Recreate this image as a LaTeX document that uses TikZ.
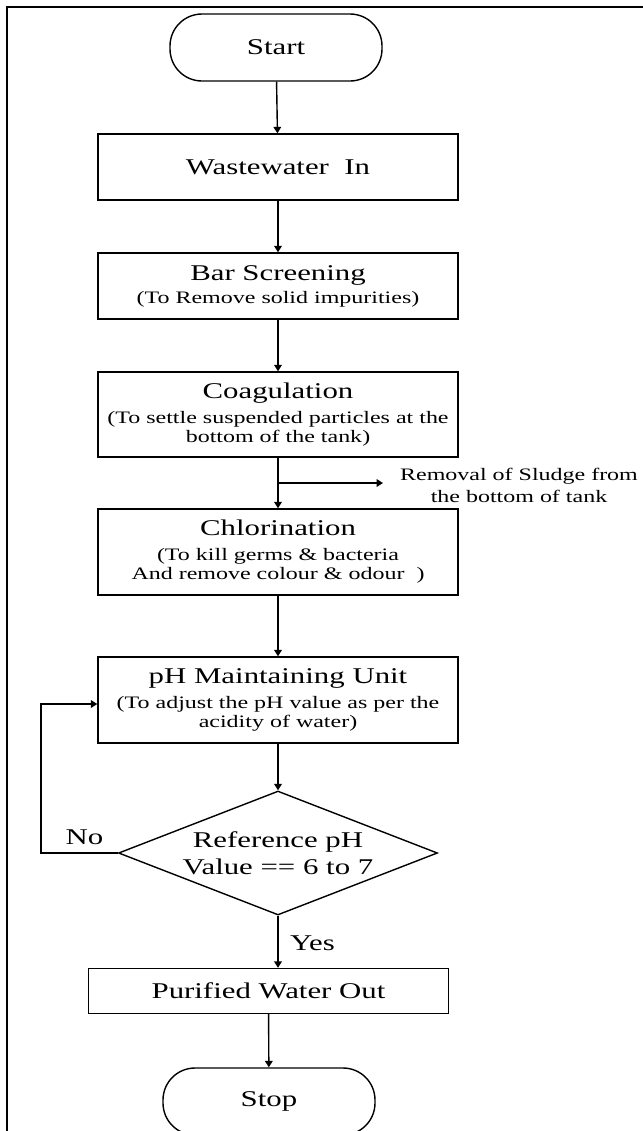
\documentclass[tikz,border=0pt]{standalone}
\usepackage{fontspec}
\setmainfont{Liberation Serif}[FakeStretch=1.37]
\usetikzlibrary{shapes.geometric,arrows.meta,calc}

\newcommand{\headfont}{\fontsize{11.25}{12.5}\selectfont}
\newcommand{\notefont}{\fontsize{8.75}{9.5}\selectfont\lineskiplimit=-10pt}

\begin{document}
\begin{tikzpicture}[x=0.5pt,y=-0.5pt]
    \tikzstyle{every node}=[font=\headfont]
    \tikzstyle{process}=[draw,line width=0.7pt,minimum width=180pt,align=center,inner sep=0pt]
    \tikzstyle{terminal}=[draw,line width=0.7pt,rounded corners=16pt,minimum width=106pt,minimum height=33.5pt]
    \tikzstyle{decision}=[draw,line width=0.7pt,diamond,aspect=2.57,minimum width=159.5pt,minimum height=62pt,inner sep=0pt,align=center]
    \tikzstyle{arr}=[-{Triangle[length=3.2pt,width=3.8pt]},line width=0.7pt]

    \useasboundingbox (0,0) rectangle (643,1131);
    \draw[line width=1pt] (7,1131) -- (7,7) -- (643,7);

    % main flow
    \node[terminal] (start) at (276,47.5) {Start};
    \node[process,minimum height=33pt] (win) at (278,167) {Wastewater~ In};
    \node[process,minimum height=33pt,font=\notefont] (bar) at (278,286)
        {{\headfont Bar Screening}\\[2pt](To Remove solid impurities)};
    \node[process,minimum height=42.5pt,font=\notefont] (coag) at (278,414.5)
        {{\headfont Coagulation}\\[3pt](To settle suspended particles at the\\bottom of the tank)};
    \node[process,minimum height=43pt,font=\notefont] (chl) at (278,552)
        {{\headfont Chlorination}\\[3pt](To kill germs \& bacteria\\And remove colour \& odour~ )};
    \node[process,minimum height=43pt,font=\notefont] (phu) at (278,700)
        {{\headfont pH Maintaining Unit}\\[3pt](To adjust the pH value as per the\\acidity of water)};
    \node[decision] (dec) at (278,853) {Reference pH\\[1pt]Value == 6 to 7};
    \node[process,minimum height=22.5pt] (pwo) at (268.5,991) {Purified Water Out};
    \node[terminal] (stop) at (269,1101.5) {Stop};

    \node[font=\notefont,align=center] (sludge) at (519,485)
        {Removal of Sludge from\\[1.5pt]the bottom of tank};
    \node (nolbl) at (84.5,837) {No};
    \node (yeslbl) at (312.5,943) {Yes};

    % connectors
    \draw[arr] (start) -- (win);
    \draw[arr] (win) -- (bar);
    \draw[arr] (bar) -- (coag);
    \draw[arr] (coag) -- (chl);
    \draw[arr] ($(coag.south)!.5!(chl.north)$) -- ++(105,0);
    \draw[arr] (chl) -- (phu);
    \draw[arr] (phu) -- (dec);
    \draw[arr] (dec.west) -- ++(-77,0) |- ($(phu.west)+(0,4)$);
    \draw[arr] (dec.south) -- (dec.south |- pwo.north);
    \draw[arr] (pwo) -- (stop);
\end{tikzpicture}
\end{document}
